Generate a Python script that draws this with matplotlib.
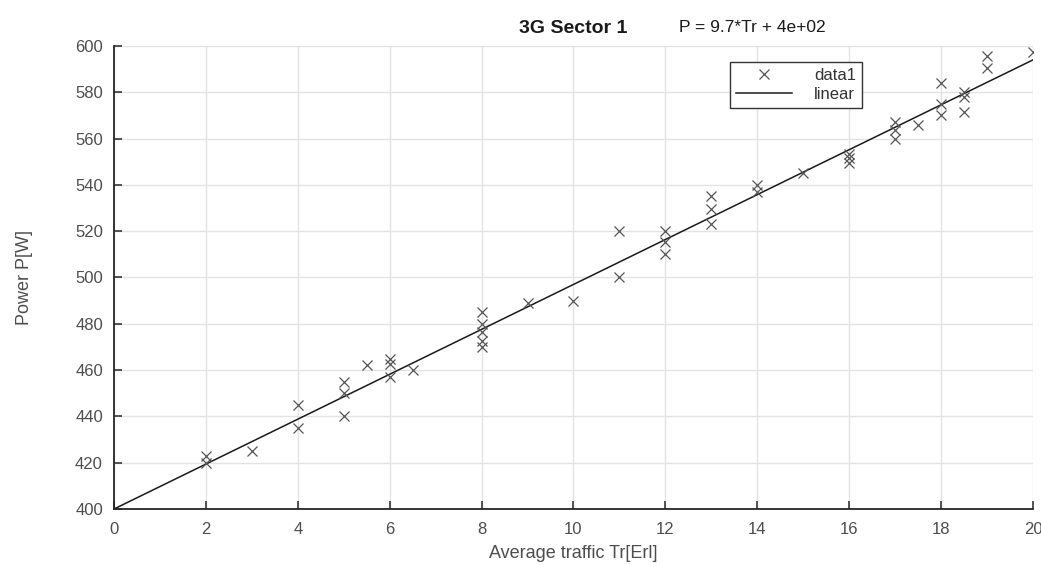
import matplotlib
matplotlib.use('Agg')
import matplotlib.pyplot as plt
import numpy as np

# measured traffic vs power, 3G sector 1
traffic = [2, 2, 3, 4, 4, 5, 5, 5, 5.5, 6, 6, 6, 6.5,
           8, 8, 8, 8, 8, 9, 10, 11, 11, 12, 12, 12,
           13, 13, 13, 14, 14, 15, 16, 16, 16, 17, 17, 17, 17.5,
           18, 18, 18, 18.5, 18.5, 18.5, 19, 19, 20]
power = [423, 420, 425, 445, 435, 455, 450, 440, 462, 465, 462.5, 457, 460,
         485, 480, 476.5, 472.5, 470, 489, 490, 520, 500, 520, 515.5, 510,
         535, 529.5, 523, 540, 537, 545, 553.5, 551.5, 549.5, 567, 563.5, 560, 566,
         584, 575, 570, 580, 578, 571.5, 595.5, 590.5, 597.5]

# linear fit shown in the title
slope = 9.7
intercept = 400
fit_x = [0, 20]

xticks = np.arange(0, 21, 2)
yticks = np.arange(400, 601, 20)

plt.rcParams['font.family'] = ['Liberation Sans', 'DejaVu Sans']

fig = plt.figure(figsize=(10.41, 5.65), dpi=100)
ax = fig.add_axes([0.1095, 0.0991, 0.8828, 0.8195])

ax.grid(True, color='#e3e3e3', linewidth=1.0, zorder=0)
ax.set_axisbelow(True)

ax.plot(traffic, power, 'x', color='#555555', markersize=7.5,
        markeredgewidth=0.9, label='data1', zorder=3)
fit_y = [slope * t + intercept for t in fit_x]
ax.plot(fit_x, fit_y, '-', color='#1a1a1a', linewidth=1.1, label='linear', zorder=2)

ax.set_xlim(0, 20)
ax.set_ylim(400, 600)
ax.set_xticks(xticks)
ax.set_yticks(yticks)

for side in ['top', 'right']:
    ax.spines[side].set_visible(False)
for side in ['left', 'bottom']:
    ax.spines[side].set_color('#262626')
    ax.spines[side].set_linewidth(1.3)

ax.tick_params(direction='in', length=5.5, width=1.1, color='#262626',
               labelcolor='#4d4d4d', labelsize=12, pad=9)
ax.tick_params(axis='y', pad=8)

ax.set_xlabel('Average traffic Tr[Erl]', fontsize=13, color='#4d4d4d', labelpad=6)
ax.set_ylabel('Power P[W]', fontsize=13, color='#4d4d4d', labelpad=30)

ax.set_title('3G Sector 1', fontsize=14, fontweight='bold', color='#1a1a1a', pad=9)
fig.text(679 / 1041, 1 - 27.5 / 565, 'P = 9.7*Tr + 4e+02', fontsize=12.5,
         color='#1a1a1a', ha='left', va='center')

leg = ax.legend(loc='upper left', bbox_to_anchor=(0.670, 0.965), borderaxespad=0,
                fancybox=False, edgecolor='#333333', framealpha=1,
                fontsize=12, handlelength=3.4, borderpad=0.35,
                labelspacing=0.25, handletextpad=1.3)
leg.get_frame().set_linewidth(1.0)
for t in leg.get_texts():
    t.set_color('#333333')

fig.savefig('out.png', dpi=100, facecolor='white')
